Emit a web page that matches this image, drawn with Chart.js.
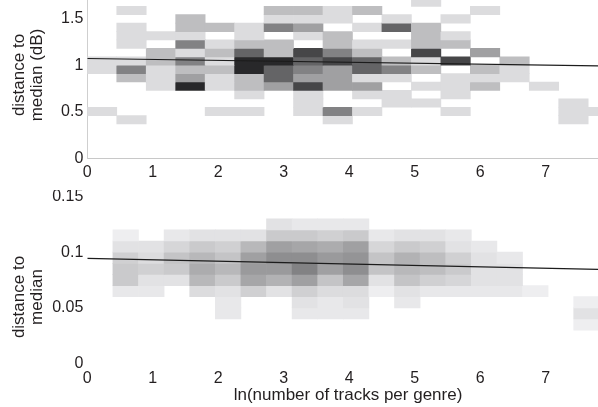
<!DOCTYPE html>
<html>
<head>
<meta charset="utf-8">
<script src="https://cdn.jsdelivr.net/npm/chart.js@4.4.1/dist/chart.umd.min.js"></script>
<style>
  html, body { margin: 0; padding: 0; background: #fff; }
  #wrap { position: relative; width: 598px; height: 407px; overflow: hidden; }
  canvas { position: absolute; left: 0; }
  #chartTop { top: 0; }
  #chartBottom { top: 190px; }
</style>
</head>
<body>
<div id="wrap">
  <canvas id="chartTop" width="598" height="190"></canvas>
  <canvas id="chartBottom" width="598" height="217"></canvas>
</div>
<script>
/* Datos */
const xMin = 0;
const xMax = 7.8;

// recta de ajuste (extremos)
const fitX = [0, 7.8];
const fitTop = [1.072, 0.993];
const fitBottom = [0.0945, 0.0846];

// panel superior: distancia a la mediana (dB)
const topColWidth = 0.45;
const topRowHeight = 0.0903;
const topRowStart = [0.368, 0.458, 0.549, 0.639, 0.729, 0.82, 0.91, 1.0, 1.09, 1.181, 1.271, 1.361, 1.452, 1.542, 1.632];
// conteos por fila (de abajo hacia arriba), una entrada por columna de x
const topCounts = [
  [0,1,0,0,0,0,0,0,1,0,0,0,0,0,0,0,1,0],
  [1,0,0,0,1,1,0,1,4,1,0,0,1,0,0,0,1,1],
  [0,0,0,0,0,0,0,1,0,0,1,1,0,0,0,0,1,0],
  [0,0,0,0,0,1,0,1,0,1,1,0,1,0,0,0,0,0],
  [0,0,1,7,1,2,3,6,3,3,0,1,1,2,0,1,0,0],
  [0,2,1,3,1,2,5,3,3,1,1,0,1,1,1,0,0,0],
  [1,4,1,2,2,7,5,4,3,5,4,2,0,2,1,0,0,0],
  [1,1,2,4,1,7,7,5,6,5,2,1,6,0,2,0,0,0],
  [0,0,2,1,2,5,2,6,4,2,0,6,0,3,0,0,0,0],
  [0,1,0,4,1,2,2,0,2,1,1,2,2,0,0,0,0,0],
  [0,1,1,1,0,1,0,1,2,0,0,2,1,0,0,0,0,0],
  [0,1,0,2,2,1,4,3,0,1,5,2,0,0,0,0,0,0],
  [0,0,0,2,0,0,1,1,1,0,1,0,1,0,0,0,0,0],
  [0,1,0,0,0,0,2,2,1,2,0,0,0,1,0,0,0,0],
  [0,0,0,0,0,0,0,0,0,0,0,1,0,0,0,0,0,0]
];

// panel inferior: distancia a la mediana
const botColWidth = 0.391;
const botRowHeight = 0.01;
const botRowStart = [0.03, 0.04, 0.05, 0.06, 0.07, 0.08, 0.09, 0.1, 0.11, 0.12];
const botCounts = [
  [0,0,0,0,0,0,0,0,0,0,0,0,0,0,0,0,0,0,0,1],
  [0,0,0,0,0,2,0,0,2,2,2,0,0,0,0,0,0,0,0,3],
  [0,0,0,0,0,2,0,0,3,2,3,0,2,0,0,0,0,0,0,1],
  [0,2,2,0,4,3,6,3,6,4,4,1,3,2,2,2,2,1,0,0],
  [0,7,3,3,10,7,13,11,14,8,13,3,8,6,5,3,3,0,0,0],
  [0,7,6,7,12,10,15,15,19,14,17,8,10,9,7,3,3,0,0,0],
  [0,6,4,8,10,8,14,17,17,15,16,8,11,9,6,3,2,0,0,0],
  [0,3,3,5,7,6,10,14,13,12,14,5,7,6,3,2,0,0,0,0],
  [0,1,0,2,3,3,3,7,7,6,7,2,3,3,2,0,0,0,0,0],
  [0,0,0,0,0,0,0,3,2,2,2,0,0,0,0,0,0,0,0,0]
];

const ink = "#231f20";
const fontFamily = '"Liberation Sans", Arial, Helvetica, sans-serif';
const tickFont = { family: fontFamily, size: 16 };

const topGray = (n) => 250 - 30 * n;
const botGray = (n) => 244 - 6 * n;

const buildCells = (counts, rowStart, rowHeight, colWidth, grayOf) => {
  const cells = [];
  const colors = [];
  counts.forEach((row, r) => {
    row.forEach((n, c) => {
      if (!n) return;
      cells.push({ x: (c + 0.5) * colWidth, y: [rowStart[r], rowStart[r] + rowHeight] });
      const g = grayOf(n);
      colors.push(`rgb(${g},${g},${g + 2})`);
    });
  });
  return { cells, colors };
};

const topCells = buildCells(topCounts, topRowStart, topRowHeight, topColWidth, topGray);
const botCells = buildCells(botCounts, botRowStart, botRowHeight, botColWidth, botGray);

/* Títulos de ejes (texto girado en dos líneas) */
const axisTitles = {
  id: "axisTitles",
  afterDraw(chart, args, opts) {
    const ctx = chart.ctx;
    ctx.save();
    ctx.fillStyle = ink;
    ctx.font = `17px ${fontFamily}`;
    ctx.textAlign = "center";
    ctx.textBaseline = "middle";
    ctx.save();
    ctx.translate(opts.yX, opts.yY);
    ctx.rotate(-Math.PI / 2);
    opts.yLines.forEach((t, i) => ctx.fillText(t, 0, i * 18));
    ctx.restore();
    if (opts.xText) ctx.fillText(opts.xText, opts.xX, opts.xY);
    ctx.restore();
  },
};

const chartTop = new Chart(document.getElementById("chartTop"), {
  type: "bar",
  data: {
    datasets: [
      {
        type: "line",
        data: fitX.map((x, i) => ({ x, y: fitTop[i] })),
        borderColor: "#1c1c1c",
        borderWidth: 1.2,
        pointRadius: 0,
        order: 0,
      },
      {
        type: "bar",
        data: topCells.cells,
        backgroundColor: topCells.colors,
        borderWidth: 0,
        grouped: false,
        categoryPercentage: 1,
        barPercentage: 1,
        order: 1,
      },
    ],
  },
  options: {
    responsive: false,
    animation: false,
    events: [],
    layout: { padding: 0 },
    plugins: {
      legend: { display: false },
      tooltip: { enabled: false },
      axisTitles: { yLines: ["distance to", "median (dB)"], yX: 19.5, yY: 75 },
    },
    scales: {
      x: {
        type: "linear",
        min: xMin,
        max: xMax,
        offset: false,
        grid: { display: false, drawTicks: false, offset: false },
        border: { display: true, color: "#c8c8c8", width: 1 },
        ticks: { stepSize: 1, includeBounds: false, padding: 5, color: ink, font: tickFont },
        afterFit: (s) => { s.height = 31.7; s.paddingLeft = 0; s.paddingRight = 0; },
      },
      y: {
        type: "linear",
        min: 0,
        max: 1.7,
        grid: { display: false, drawTicks: false },
        border: { display: true, color: "#cfcfcf", width: 1 },
        ticks: {
          stepSize: 0.5, includeBounds: false, padding: 4, color: ink, font: tickFont,
          format: { minimumFractionDigits: 0, maximumFractionDigits: 2 },
        },
        afterFit: (s) => { s.width = 87.3; s.paddingTop = 0; s.paddingBottom = 0; },
      },
    },
  },
  plugins: [axisTitles],
});

const chartBottom = new Chart(document.getElementById("chartBottom"), {
  type: "bar",
  data: {
    datasets: [
      {
        type: "line",
        data: fitX.map((x, i) => ({ x, y: fitBottom[i] })),
        borderColor: "#1c1c1c",
        borderWidth: 1.2,
        pointRadius: 0,
        order: 0,
      },
      {
        type: "bar",
        data: botCells.cells,
        backgroundColor: botCells.colors,
        borderWidth: 0,
        grouped: false,
        categoryPercentage: 1,
        barPercentage: 1,
        order: 1,
      },
    ],
  },
  options: {
    responsive: false,
    animation: false,
    events: [],
    layout: { padding: { top: 6.5, left: 0, right: 0, bottom: 0 } },
    plugins: {
      legend: { display: false },
      tooltip: { enabled: false },
      axisTitles: {
        yLines: ["distance to", "median"], yX: 19.5, yY: 107,
        xText: "ln(number of tracks per genre)", xX: 348, xY: 205,
      },
    },
    scales: {
      x: {
        type: "linear",
        min: xMin,
        max: xMax,
        offset: false,
        grid: { display: false, drawTicks: false, offset: false },
        border: { display: false },
        ticks: { stepSize: 1, includeBounds: false, padding: 5, color: ink, font: tickFont },
        afterFit: (s) => { s.height = 43.5; s.paddingLeft = 0; s.paddingRight = 0; },
      },
      y: {
        type: "linear",
        min: 0,
        max: 0.15,
        grid: { display: false, drawTicks: false },
        border: { display: false },
        ticks: {
          stepSize: 0.05, includeBounds: false, padding: 4, color: ink, font: tickFont,
          format: { minimumFractionDigits: 0, maximumFractionDigits: 2 },
        },
        afterFit: (s) => { s.width = 87.3; s.paddingTop = 0; s.paddingBottom = 0; },
      },
    },
  },
  plugins: [axisTitles],
});
</script>
</body>
</html>
